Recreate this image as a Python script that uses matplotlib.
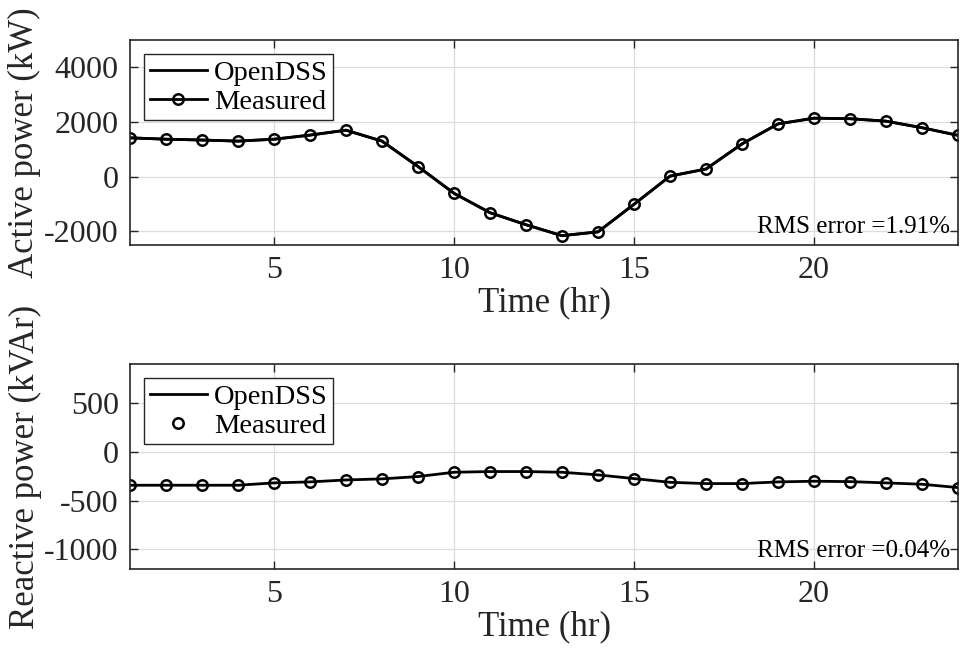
import matplotlib
matplotlib.use("Agg")
import matplotlib.pyplot as plt

hours = list(range(1, 25))

# active power (kW)
active_kw = [1420, 1370, 1340, 1300, 1370, 1520, 1700, 1300, 370, -610,
             -1320, -1760, -2160, -2020, -1010, 20, 280, 1200,
             1930, 2140, 2120, 2030, 1790, 1510]

# reactive power (kVAr)
reactive_kvar = [-342, -342, -342, -342, -318, -308, -288, -277, -253, -209,
                 -202, -202, -209, -236, -274, -312, -325, -325,
                 -308, -301, -305, -318, -332, -366]

rms_labels = ["RMS error =1.91%", "RMS error =0.04%"]
ylabels = ["Active power (kW)", "Reactive power (kVAr)"]
ylims = [(-2500, 5000), (-1200, 900)]
yticks = [[-2000, 0, 2000, 4000], [-1000, -500, 0, 500]]

plt.rcParams["font.family"] = ["Liberation Serif", "DejaVu Serif"]
plt.rcParams["axes.unicode_minus"] = False

fig = plt.figure(figsize=(9.6, 6.58), dpi=100)
ax1 = fig.add_axes([0.1354, 0.6277, 0.8626, 0.3115])
ax2 = fig.add_axes([0.1354, 0.1353, 0.8626, 0.3115])

edge = "#262626"

for i, ax in enumerate([ax1, ax2]):
    y = active_kw if i == 0 else reactive_kvar
    ax.plot(hours, y, color="black", lw=2, label="OpenDSS")
    if i == 0:
        ax.plot(hours, y, color="black", lw=2, marker="o", ms=7.5,
                mfc="none", mew=1.8, label="Measured")
    else:
        ax.plot(hours, y, ls="none", color="black", marker="o", ms=7.5,
                mfc="none", mew=1.8, label="Measured")

    ax.set_xlim(1, 24)
    ax.set_ylim(*ylims[i])
    ax.set_xticks([5, 10, 15, 20])
    ax.set_yticks(yticks[i])
    ax.grid(True, color="#dcdcdc", lw=0.9)
    ax.set_axisbelow(True)
    ax.tick_params(direction="in", length=6, width=1, colors=edge,
                   labelcolor="#262626", labelsize=23,
                   top=True, right=True, pad=8)
    for sp in ax.spines.values():
        sp.set_color(edge)
        sp.set_linewidth(1.2)

    ax.set_xlabel("Time (hr)", fontsize=25, color="#262626", labelpad=1)
    ax.set_ylabel(ylabels[i], fontsize=25, color="#262626", labelpad=2)

    ax.text(0.99, 0.035, rms_labels[i], transform=ax.transAxes,
            ha="right", va="bottom", fontsize=18, color="black")

    leg = ax.legend(loc="upper left", fontsize=20.5, frameon=True, fancybox=False,
                    edgecolor=edge, framealpha=1, borderpad=0.2,
                    labelspacing=0.1, handlelength=2.0, handletextpad=0.25,
                    borderaxespad=0.5)
    leg.get_frame().set_linewidth(1.0)

fig.savefig("out.png", dpi=100)
